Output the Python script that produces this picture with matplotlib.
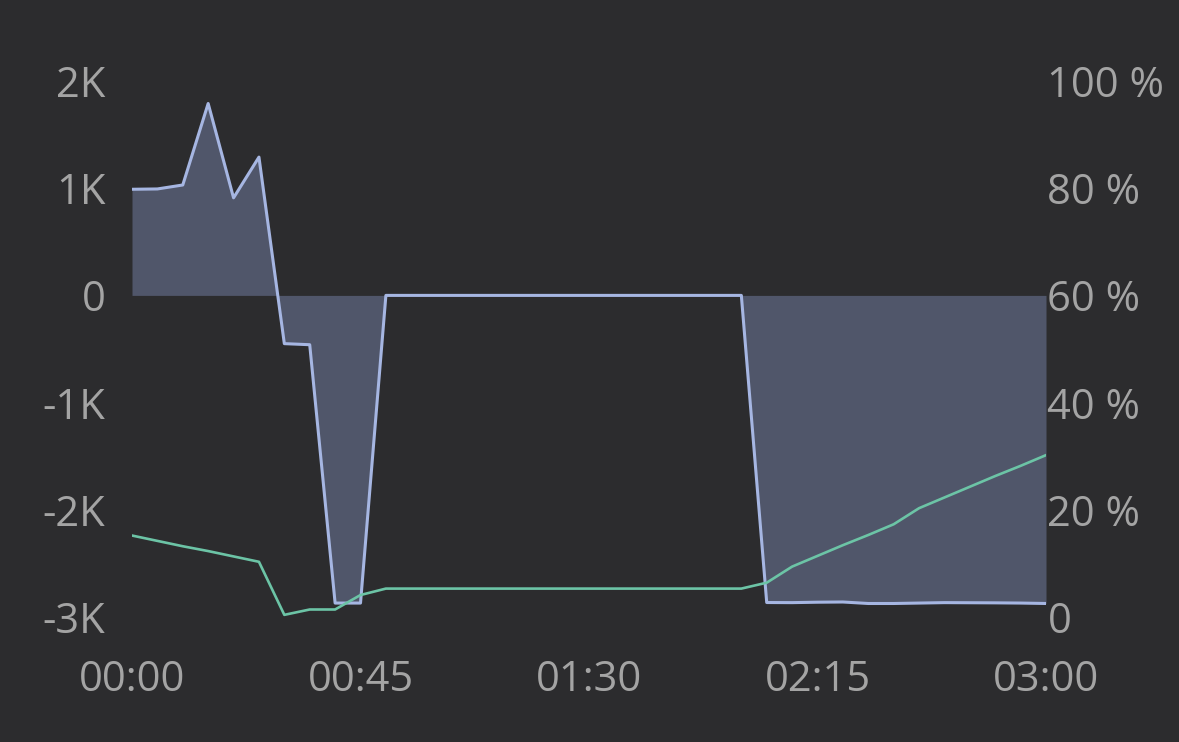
import numpy as np
import matplotlib
matplotlib.use("Agg")
import matplotlib.pyplot as plt

# samples every 5 minutes, 00:00 .. 03:00
minutes = np.arange(0, 181, 5)

# left axis series (filled area)
area_vals = [990, 993, 1030, 1790, 910, 1290, -450, -460, -2870, -2870,
             0, 0, 0, 0, 0, 0, 0, 0, 0, 0, 0, 0, 0, 0, 0,
             -2865, -2866, -2862, -2860, -2874, -2874, -2870, -2866,
             -2867, -2868, -2870, -2874]

# right axis series (percent)
pct_vals = [15.2, 14.2, 13.2, 12.3, 11.3, 10.3, 0.4, 1.4, 1.4, 4.1,
            5.3, 5.3, 5.3, 5.3, 5.3, 5.3, 5.3, 5.3, 5.3, 5.3, 5.3, 5.3,
            5.3, 5.3, 5.3,
            6.4, 9.4, 11.4, 13.4, 15.3, 17.3, 20.3, 22.3, 24.3, 26.3,
            28.2, 30.2]

left_ticks = [-3000, -2000, -1000, 0, 1000, 2000]
left_labels = ['-3K', '-2K', '-1K', '0', '1K', '2K']
right_ticks = [0, 20, 40, 60, 80, 100]
right_labels = ['0', '20 %', '40 %', '60 %', '80 %', '100 %']
x_ticks = [0, 45, 90, 135, 180]
x_labels = ['00:00', '00:45', '01:30', '02:15', '03:00']

bg = '#2c2c2e'
txt = '#a4a4a4'
plt.rcParams['font.family'] = ['Open Sans', 'DejaVu Sans']

fig = plt.figure(figsize=(11.79, 7.42), dpi=100, facecolor=bg)
ax = fig.add_axes([132/1179, 1 - 617/742, (1046-132)/1179, (617-81)/742])
ax.set_facecolor(bg)

ax.fill_between(minutes, area_vals, 0, color='#50566a', lw=0)
ax.plot(minutes, area_vals, color='#a6b6e2', lw=2.2)
ax.set_xlim(0, 180)
ax.set_ylim(-3000, 2000)
ax.set_yticks(left_ticks)
ax.set_yticklabels(left_labels)
ax.set_xticks(x_ticks)
ax.set_xticklabels(x_labels)
ax.tick_params(axis='y', length=0, pad=19, labelsize=30, colors=txt)
ax.tick_params(axis='x', length=0, pad=30, labelsize=30, colors=txt)

ax2 = ax.twinx()
ax2.plot(minutes, pct_vals, color='#6cc4a6', lw=1.9)
ax2.set_ylim(0, 100)
ax2.set_yticks(right_ticks)
ax2.set_yticklabels(right_labels)
ax2.tick_params(axis='y', length=0, pad=1, labelsize=30, colors=txt)

for a in (ax, ax2):
    for s in a.spines.values():
        s.set_visible(False)

fig.savefig('out.png', dpi=100, facecolor=bg)
